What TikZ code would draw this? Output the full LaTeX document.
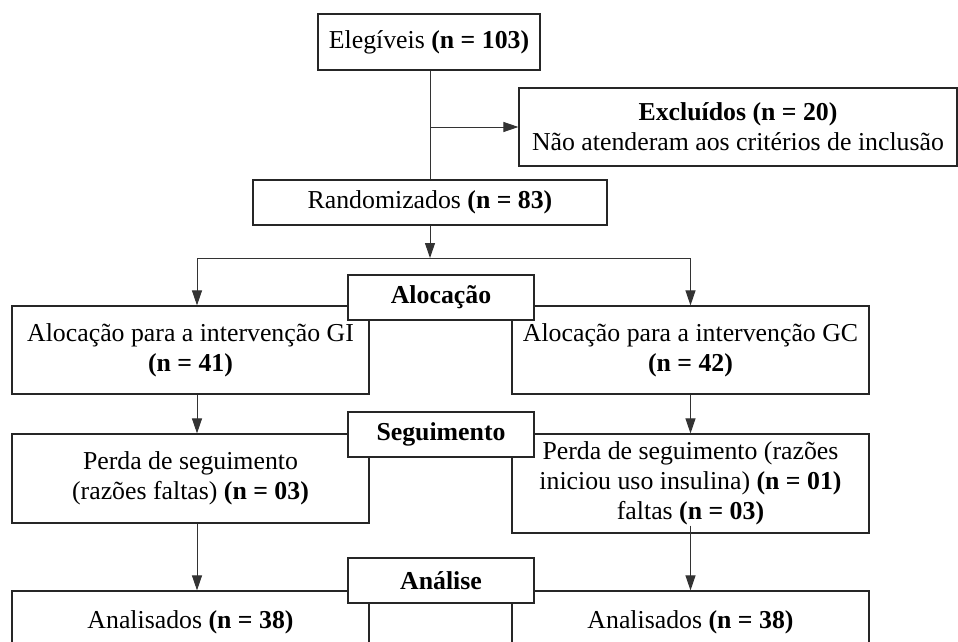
\documentclass[tikz,border=0pt]{standalone}
\usepackage{fontspec}
\setmainfont{Liberation Serif}
\usetikzlibrary{arrows.meta,calc}
\begin{document}
\begin{tikzpicture}[x=1pt,y=-1pt,
  box/.style={draw=black!85, line width=1.2pt, fill=white, rectangle, inner sep=0pt,
    align=center, font=\fontsize{25.8}{30}\selectfont},
  sz/.style 2 args={minimum width=#1, minimum height=#2},
  stage/.style={box, font=\fontsize{25.8}{30}\selectfont\bfseries},
  conn/.style={draw=black!80, line width=1pt},
  arr/.style={conn, -{Triangle[length=15pt,width=10pt]}}]
\useasboundingbox (0,0) rectangle (958,642);
\fill[white] (0,0) rectangle (958,642);
\clip (0,0) rectangle (958,642);

% main boxes
\node[box, sz={222}{56}] (eleg) at (429,42) {Elegíveis \textbf{(n = 103)}};
\node[box, sz={438}{78}] (excl) at (738,127) {\textbf{Excluídos (n = 20)}\\Não atenderam aos critérios de inclusão};
\node[box, sz={354}{45}] (rand) at (430,202.5) {Randomizados \textbf{(n = 83)}};
\node[box, sz={357}{88}] (gi) at (190.5,350) {Alocação para a intervenção GI\\\textbf{(n = 41)}};
\node[box, sz={357}{88}] (gc) at (690.5,350) {Alocação para a intervenção GC\\\textbf{(n = 42)}};
\node[box, sz={357}{89}] (perdaL) at (190.5,478.5) {Perda de seguimento\\(razões faltas) \textbf{(n = 03)}};
\node[box, sz={357}{99}] (perdaR) at (690.5,483.5) {Perda de seguimento (razões\\iniciou uso insulina) \textbf{(n = 01)}\\faltas \textbf{(n = 03)}};
\node[box, sz={357}{62}] (analL) at (190.5,622) {Analisados \textbf{(n = 38)}};
\node[box, sz={357}{62}] (analR) at (690.5,622) {Analisados \textbf{(n = 38)}};

% connectors
\coordinate (split) at (430,258);
\coordinate (colL) at (197,258);
\draw[conn] (eleg.south -| rand.north) -- (rand.north);
\draw[arr] (rand.north |- excl.west) -- (excl.west);
\draw[arr] (rand.south) -- (split);
\draw[conn] (colL) -- (split -| gc.north);
\draw[arr] (colL) -- (gi.north -| colL);
\draw[arr] (split -| gc.north) -- (gc.north);
\draw[arr] (gi.south -| colL) -- (perdaL.north -| colL);
\draw[arr] (gc.south) -- (perdaR.north);
\draw[arr] (perdaL.south -| colL) -- (analL.north -| colL);
\draw[arr] ($(perdaR.south)+(0,-8)$) -- (analR.north);

% stage labels
\node[stage, sz={186}{45}] (aloc) at (441,297.5) {Alocação};
\node[stage, sz={186}{45}] (seg) at (441,434.5) {Seguimento};
\node[stage, sz={186}{45}] (anal) at (441,580.5) {Análise};
\end{tikzpicture}
\end{document}
